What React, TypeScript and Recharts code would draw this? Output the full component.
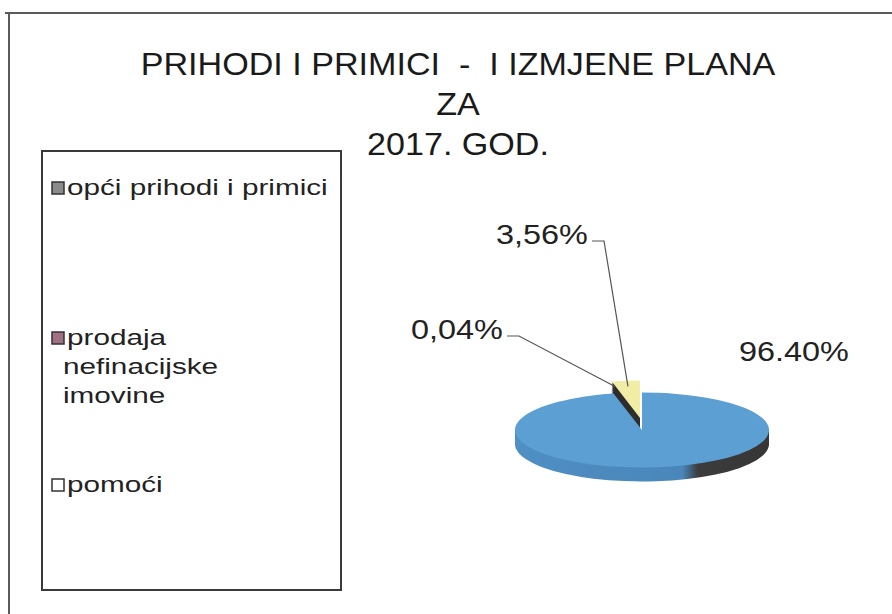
import { PieChart, Pie, Cell, Legend } from 'recharts';

const titleLines = ['PRIHODI I PRIMICI  -  I IZMJENE PLANA', 'ZA', '2017. GOD.'];
const categories = ['opći prihodi i primici', 'prodaja nefinacijske imovine', 'pomoći'];
const shares = [96.4, 0.04, 3.56];
const shareLabels = ['96.40%', '0,04%', '3,56%'];

const topColors = ['#5c9fd2', '#303030', '#f2eda4'];
const sideColors = ['url(#pieSide)', '#262626', '#2e2e2e'];
const swatchColors = ['#8a8a8a', '#a07084', '#ffffff'];
const exploded = [false, true, true];

const W = 892;
const H = 614;
const FONT = '"Liberation Sans", Arial, sans-serif';

// fake 3D: pie is squashed vertically, side is stacked copies below it
const CX = 642;
const CY = 430;
const R = 127;
const TILT = 0.295;
const DEPTH = [14, 12, 10, 8, 6, 4, 2];
const LIFT = { x: -2, y: -12 };

const labelPos = [
  { dx: 152, dy: -69, line: false },
  { dx: -185, dy: -91, line: true },
  { dx: -100, dy: -186, line: true },
];
const legendRowY = [45, 195, 342];
const RAD = Math.PI / 180;

const pieData = categories.map((name, i) => ({ name, value: shares[i] }));

const sectorStyle = (i: number) =>
  exploded[i] ? { transform: `translate(${LIFT.x}px, ${LIFT.y}px) scaleY(${TILT})` } : undefined;

function SliceLabel(props: any) {
  const { cx, cy, midAngle, outerRadius, index } = props;
  const pos = labelPos[index];
  const tx = cx + pos.dx;
  const ty = cy + pos.dy;
  const lift = exploded[index] ? LIFT : { x: 0, y: 0 };
  const ax = cx + outerRadius * 0.85 * Math.cos(-midAngle * RAD) + lift.x;
  const ay = cy + outerRadius * 0.85 * Math.sin(-midAngle * RAD) * TILT + lift.y;
  return (
    <g>
      {pos.line && (
        <polyline
          points={`${tx + 50},${ty - 3} ${tx + 62},${ty - 3} ${ax},${ay}`}
          fill="none"
          stroke="#555"
          strokeWidth={1.2}
        />
      )}
      <text
        transform={`translate(${tx},${ty}) scale(1.2,1)`}
        textAnchor="middle"
        fontSize={27}
        fontFamily={FONT}
        fill="#222"
      >
        {shareLabels[index]}
      </text>
    </g>
  );
}

function LegendBox(props: any) {
  const { payload = [] } = props;
  // side layers also end up in the payload, keep one entry per category
  const names = categories.filter((c) => payload.some((p: any) => p.value === c));
  return (
    <svg width={301} height={441} style={{ display: 'block' }}>
      <rect x={1} y={1} width={299} height={439} fill="#fff" stroke="#3a3a3a" strokeWidth={2} />
      {names.map((name, i) => {
        const lines = name.length > 24 ? name.split(' ') : [name];
        const y0 = legendRowY[i];
        return (
          <g key={name}>
            <rect x={11} y={y0 - 13} width={12} height={12} fill={swatchColors[i]} stroke="#333" strokeWidth={1.5} />
            {lines.map((ln, j) => (
              <text
                key={j}
                transform={`translate(${j ? 22 : 26},${y0 + j * 29}) scale(1.35,1)`}
                fontSize={22}
                fontFamily={FONT}
                fill="#222"
              >
                {ln}
              </text>
            ))}
          </g>
        );
      })}
    </svg>
  );
}

export default function App() {
  return (
    <div style={{ position: 'absolute', left: 0, top: 0, width: W, height: H, background: '#fff' }}>
      <style>{`
        .pie3d path.recharts-sector {
          transform-box: view-box;
          transform-origin: ${CX}px ${CY}px;
          transform: scaleY(${TILT});
        }
      `}</style>
      <PieChart className="pie3d" width={W} height={H} margin={{ top: 0, right: 0, bottom: 0, left: 0 }}>
        <defs>
          <linearGradient id="pieSide" x1="0" y1="0" x2="1" y2="0">
            <stop offset="0" stopColor="#4f8fc4" />
            <stop offset="0.66" stopColor="#4a86b9" />
            <stop offset="0.72" stopColor="#3c3c3c" />
            <stop offset="1" stopColor="#363636" />
          </linearGradient>
        </defs>
        {DEPTH.map((d) => (
          <Pie
            key={d}
            data={pieData}
            dataKey="value"
            nameKey="name"
            cx={CX}
            cy={CY + d / TILT}
            outerRadius={R}
            startAngle={90}
            endAngle={-270}
            stroke="none"
            legendType="none"
            isAnimationActive={false}
          >
            {pieData.map((_, i) => (
              <Cell key={i} fill={sideColors[i]} style={sectorStyle(i)} />
            ))}
          </Pie>
        ))}
        <Pie
          data={pieData}
          dataKey="value"
          nameKey="name"
          cx={CX}
          cy={CY}
          outerRadius={R}
          startAngle={90}
          endAngle={-270}
          stroke="none"
          label={SliceLabel}
          labelLine={false}
          isAnimationActive={false}
        >
          {pieData.map((_, i) => (
            <Cell key={i} fill={topColors[i]} style={sectorStyle(i)} />
          ))}
        </Pie>
        <Legend
          layout="horizontal"
          verticalAlign="middle"
          align="center"
          content={<LegendBox />}
          wrapperStyle={{ left: 41, top: 150, width: 301, height: 441 }}
        />
      </PieChart>
      <svg width={W} height={H} style={{ position: 'absolute', left: 0, top: 0, pointerEvents: 'none' }}>
        <line x1={5} y1={13} x2={892} y2={13} stroke="#5a5a5a" strokeWidth={2} />
        <line x1={9} y1={13} x2={9} y2={614} stroke="#5a5a5a" strokeWidth={2} />
        {titleLines.map((t, i) => (
          <text
            key={i}
            transform={`translate(458,${75 + i * 40}) scale(1.1,1)`}
            textAnchor="middle"
            fontSize={31}
            fontFamily={FONT}
            fill="#1a1a1a"
            style={{ whiteSpace: 'pre' }}
          >
            {t}
          </text>
        ))}
      </svg>
    </div>
  );
}
